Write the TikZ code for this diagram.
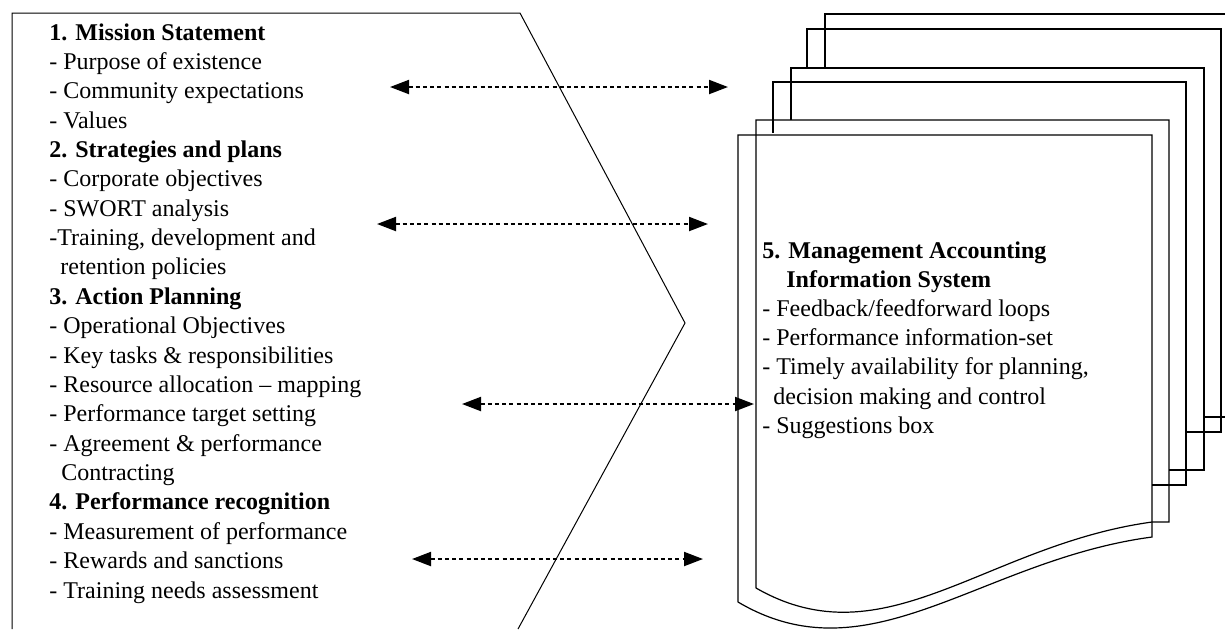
\documentclass[tikz,border=0pt]{standalone}
\usepackage{fontspec}
\setmainfont{Liberation Serif}
\usetikzlibrary{arrows.meta}
\begin{document}
\begin{tikzpicture}[x=0.5pt,y=-0.5pt,
  txt/.style={font=\fontsize{12pt}{14pt}\selectfont, inner sep=0pt, anchor=base west},
  frame/.style={line width=0.5pt},
  sheet/.style={line width=0.6pt, line join=miter},
  link/.style={line width=1pt, dash pattern=on 2pt off 1.6pt, <->, >={Triangle[length=9.5pt,width=7pt]}}]
\useasboundingbox (0,0) rectangle (1225,629);
\clip (0,0) rectangle (1225,629);

% left frame (chevron)
\draw[frame] (12,629) -- (12,13) -- (520,13) -- (685,323) -- (518,629);

% left text
\foreach \t [count=\i] in {
  {\textbf{1. Mission Statement}},
  {- Purpose of existence},
  {- Community expectations},
  {- Values},
  {\textbf{2. Strategies and plans}},
  {- Corporate objectives},
  {- SWORT analysis},
  {-Training, development and},
  {\hspace*{5.5pt}retention policies},
  {\textbf{3. Action Planning}},
  {- Operational Objectives},
  {- Key tasks \& responsibilities},
  {- Resource allocation – mapping},
  {- Performance target setting},
  {- Agreement \& performance},
  {\hspace*{6pt}Contracting},
  {\textbf{4. Performance recognition}},
  {- Measurement of performance},
  {- Rewards and sanctions},
  {- Training needs assessment}}
  \node[txt] (L\i) at (49,{40+(\i-1)*29.37}) {\t};

% stacked sheets (back to front)
\draw[sheet] (825,68) -- (825,14) -- (1230,14);
\draw[sheet] (1230,417) -- (1204,417);
\draw[sheet] (807,68) -- (807,29) -- (1221,29) -- (1221,432) -- (1186,432);
\draw[sheet] (791,120) -- (791,68) -- (1204,68) -- (1204,470) -- (1169,470);
\draw[sheet] (773,133) -- (773,82) -- (1186,82) -- (1186,485) -- (1152,485);
\draw[sheet] (756,588) -- (756,120) -- (1169,120) -- (1169,522) -- (1152,522)
   .. controls (985,545) and (885,662) .. (756,588);
\draw[sheet] (738,602) -- (738,135) -- (1152,135) -- (1152,537)
   .. controls (980,560) and (870,680) .. (738,602);

% right text
\foreach \t [count=\i] in {
  {\textbf{5. Management Accounting}},
  {\hspace*{12pt}\textbf{Information System}},
  {- Feedback/feedforward loops},
  {- Performance information-set},
  {- Timely availability for planning,},
  {\hspace*{5.5pt}decision making and control},
  {- Suggestions box}}
  \node[txt] (R\i) at (762,{258+(\i-1)*29.2}) {\t};

% connectors
\coordinate (a1l) at (390,87);  \coordinate (a1r) at (728,87);
\coordinate (a2l) at (377,224); \coordinate (a2r) at (708,224);
\coordinate (a3l) at (462,404); \coordinate (a3r) at (754,404);
\coordinate (a4l) at (412,559); \coordinate (a4r) at (703,559);
\draw[link] (a1l) -- (a1r);
\draw[link] (a2l) -- (a2r);
\draw[link] (a3l) -- (a3r);
\draw[link] (a4l) -- (a4r);
\end{tikzpicture}
\end{document}
